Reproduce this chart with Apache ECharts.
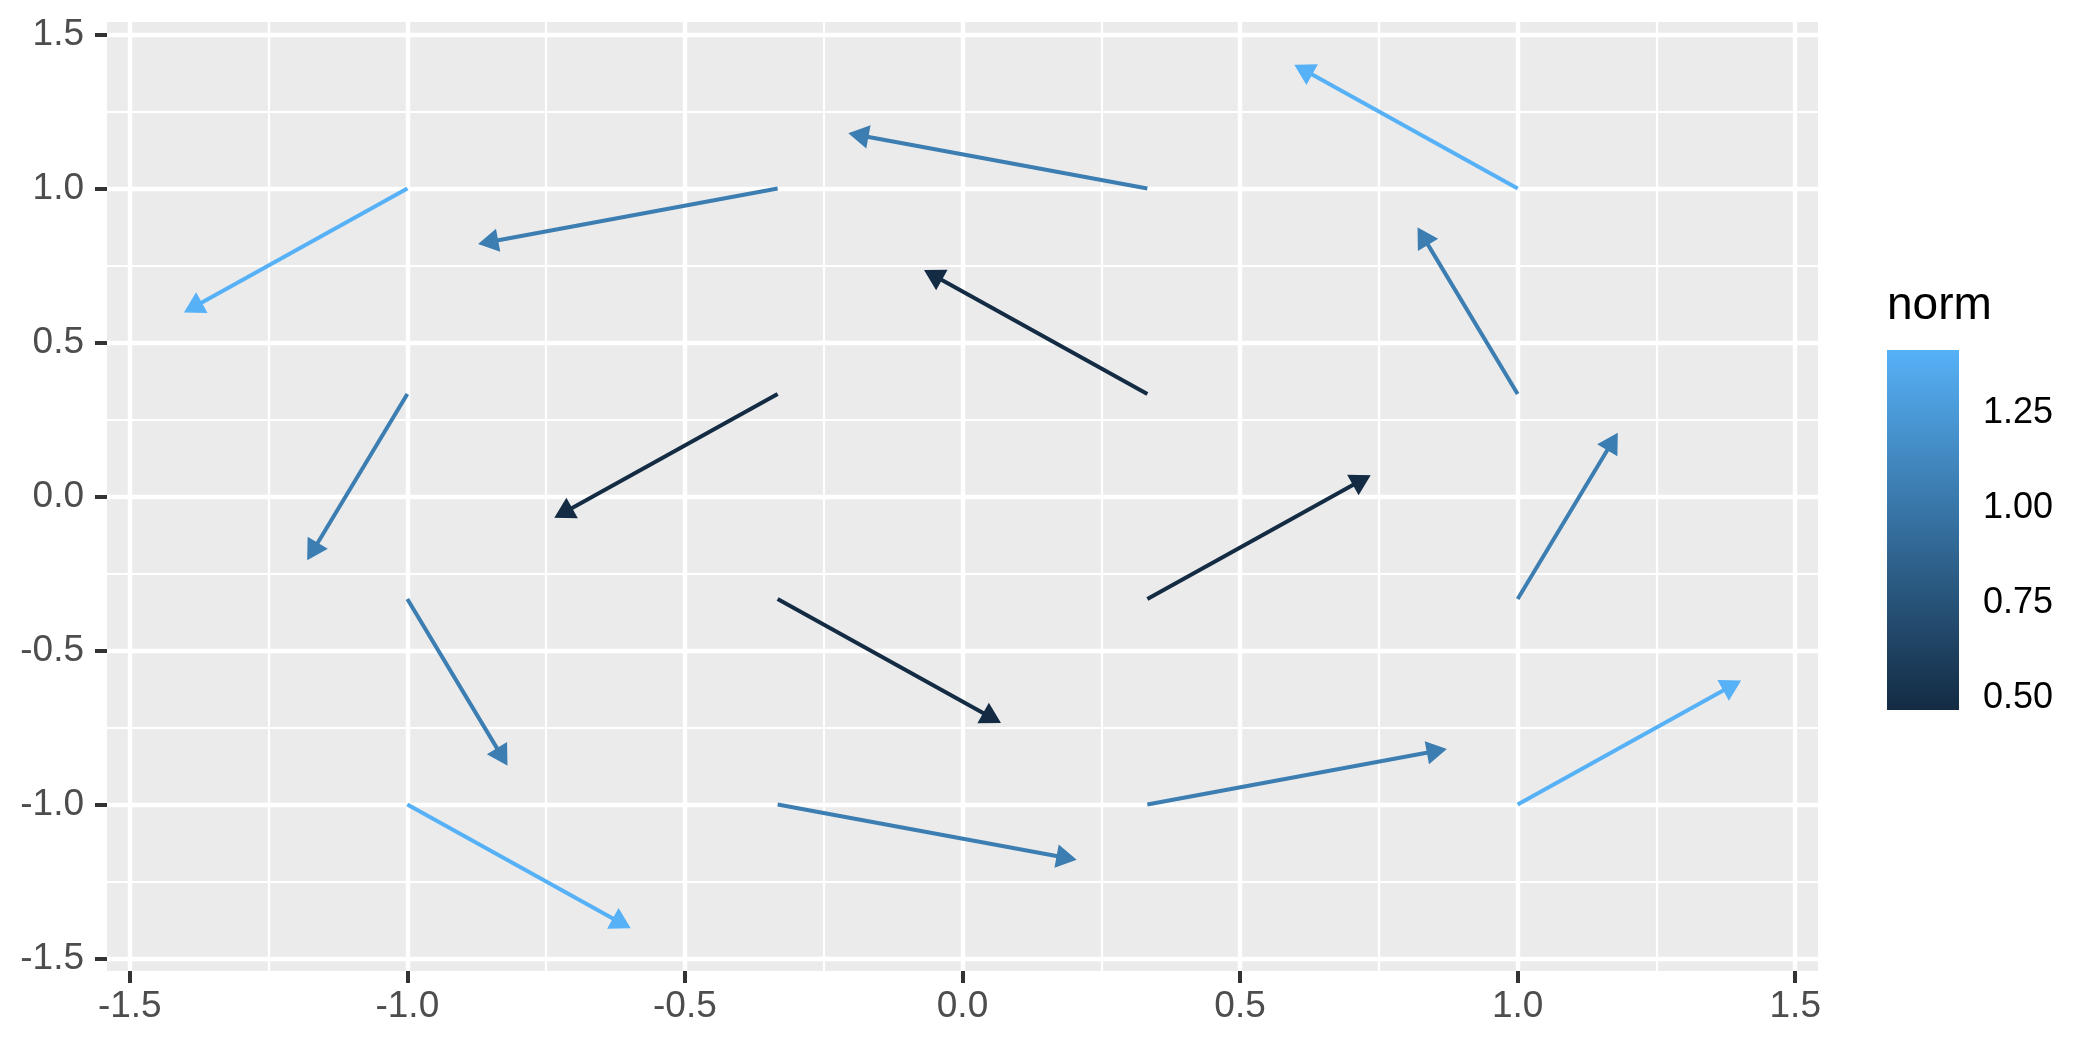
<!DOCTYPE html>
<html style="height: 100%">
<head>
<meta charset="utf-8">
<script src="https://cdn.jsdelivr.net/npm/echarts@6.0.0/dist/echarts.min.js"></script>
</head>
<body style="height: 100%; margin: 0; background: #fff">
<div id="container" style="width: 2100px; height: 1050px"></div>
<script type="text/javascript">
// arrow start / end points and their norm
var xStart = [-1, -0.333, 0.333, 1, -1, -0.333, 0.333, 1, -1, -0.333, 0.333, 1, -1, -0.333, 0.333, 1];
var yStart = [1, 1, 1, 1, 0.333, 0.333, 0.333, 0.333, -0.333, -0.333, -0.333, -0.333, -1, -1, -1, -1];
var xEnd = [-1.4, -0.87, -0.203, 0.6, -1.179, -0.733, -0.067, 0.821, -0.821, 0.067, 0.733, 1.179, -0.6, 0.203, 0.87, 1.4];
var yEnd = [0.6, 0.821, 1.179, 1.4, -0.203, -0.067, 0.733, 0.87, -0.87, -0.733, 0.067, 0.203, -1.4, -1.179, -0.821, -0.6];
var norm = [1.414, 1.054, 1.054, 1.414, 1.054, 0.471, 0.471, 1.054, 1.054, 0.471, 0.471, 1.054, 1.414, 1.054, 1.054, 1.414];

var majorBreaks = [-1.5, -1, -0.5, 0, 0.5, 1, 1.5];
var minorBreaks = [-1.25, -0.75, -0.25, 0.25, 0.75, 1.25];
var normBreaks = [0.5, 0.75, 1, 1.25];

var FONT = 'Liberation Sans, Arial, sans-serif';
var LOW = '#132B43', HIGH = '#56B1F7';

var arrows = xStart.map(function (x, i) {
	return [x, yStart[i], xEnd[i], yEnd[i], norm[i]];
});

function renderArrow(params, api) {
	var p0 = api.coord([api.value(0), api.value(1)]);
	var p1 = api.coord([api.value(2), api.value(3)]);
	var color = api.visual('color');
	var ang = Math.atan2(p1[1] - p0[1], p1[0] - p0[0]);
	var L = 21, a = Math.PI / 6;
	var b1 = [p1[0] - L * Math.cos(ang - a), p1[1] - L * Math.sin(ang - a)];
	var b2 = [p1[0] - L * Math.cos(ang + a), p1[1] - L * Math.sin(ang + a)];
	var back = L * Math.cos(a) * 0.9;
	var e = [p1[0] - back * Math.cos(ang), p1[1] - back * Math.sin(ang)];
	return {
		type: 'group',
		children: [{
			type: 'line',
			shape: { x1: p0[0], y1: p0[1], x2: e[0], y2: e[1] },
			style: { stroke: color, lineWidth: 4 }
		}, {
			type: 'polygon',
			shape: { points: [p1, b1, b2] },
			style: { fill: color, stroke: color, lineWidth: 1.5 }
		}]
	};
}

function renderBar(params, api) {
	var cs = params.coordSys;
	return {
		type: 'rect',
		shape: { x: cs.x, y: cs.y, width: cs.width, height: cs.height },
		style: {
			fill: {
				type: 'linear', x: 0, y: 0, x2: 0, y2: 1,
				colorStops: [{ offset: 0, color: HIGH }, { offset: 1, color: LOW }]
			}
		}
	};
}

var myChart = echarts.init(document.getElementById('container'));
var option = {
	animation: false,
	backgroundColor: '#fff',
	title: {
		text: 'norm', left: 1887, top: 283, padding: 0,
		textStyle: { fontFamily: FONT, fontSize: 46, fontWeight: 'normal', color: '#000' }
	},
	grid: [
		{ left: 107, top: 22, width: 1711, height: 949, show: true, backgroundColor: '#EBEBEB', borderWidth: 0 },
		{ left: 1887, top: 350, width: 72, height: 360, show: false }
	],
	visualMap: {
		show: false, type: 'continuous', seriesIndex: 0, dimension: 4,
		min: 0.4714, max: 1.4142,
		inRange: { color: [LOW, HIGH] }
	},
	xAxis: [{
		type: 'value', gridIndex: 0, min: -1.541, max: 1.541, position: 'bottom',
		axisLine: { show: false, onZero: false },
		axisTick: { show: true, length: 12, customValues: majorBreaks, lineStyle: { color: '#333333', width: 4 } },
		axisLabel: { customValues: majorBreaks, margin: 17, fontFamily: FONT, fontSize: 37, color: '#4D4D4D',
			formatter: function (v) { return v.toFixed(1); } },
		splitLine: { show: true, lineStyle: { color: '#fff', width: 4.4 } }
	}, {
		type: 'value', gridIndex: 0, min: -1.541, max: 1.541, position: 'top',
		axisLine: { show: false, onZero: false },
		axisTick: { show: false, customValues: minorBreaks },
		axisLabel: { show: false, customValues: minorBreaks },
		splitLine: { show: true, lineStyle: { color: '#fff', width: 2.2 } }
	}, {
		type: 'value', gridIndex: 1, min: 0, max: 1, show: false
	}],
	yAxis: [{
		type: 'value', gridIndex: 0, min: -1.541, max: 1.541, position: 'left',
		axisLine: { show: false, onZero: false },
		axisTick: { show: true, length: 12, customValues: majorBreaks, lineStyle: { color: '#333333', width: 4 } },
		axisLabel: { customValues: majorBreaks, margin: 23, fontFamily: FONT, fontSize: 37, color: '#4D4D4D',
			formatter: function (v) { return v.toFixed(1); } },
		splitLine: { show: true, lineStyle: { color: '#fff', width: 4.4 } }
	}, {
		type: 'value', gridIndex: 0, min: -1.541, max: 1.541, position: 'right',
		axisLine: { show: false, onZero: false },
		axisTick: { show: false, customValues: minorBreaks },
		axisLabel: { show: false, customValues: minorBreaks },
		splitLine: { show: true, lineStyle: { color: '#fff', width: 2.2 } }
	}, {
		type: 'value', gridIndex: 1, min: 0.468, max: 1.417, position: 'right',
		axisLine: { show: false, onZero: false },
		axisTick: { show: true, inside: true, length: 13, customValues: normBreaks, lineStyle: { color: '#fff', width: 1.5 } },
		axisLabel: { customValues: normBreaks, margin: 24, fontFamily: FONT, fontSize: 36, color: '#000',
			formatter: function (v) { return v.toFixed(2); } },
		splitLine: { show: false }
	}, {
		type: 'value', gridIndex: 1, min: 0.468, max: 1.417, position: 'left',
		axisLine: { show: false, onZero: false },
		axisTick: { show: true, inside: true, length: 13, customValues: normBreaks, lineStyle: { color: '#fff', width: 1.5 } },
		axisLabel: { show: false },
		splitLine: { show: false }
	}],
	series: [{
		type: 'custom',
		xAxisIndex: 0, yAxisIndex: 0,
		renderItem: renderArrow,
		encode: { x: [0, 2], y: [1, 3] },
		data: arrows,
		z: 5
	}, {
		type: 'custom',
		xAxisIndex: 2, yAxisIndex: 2,
		renderItem: renderBar,
		data: [[0.5, 1]],
		z: 1
	}]
};
myChart.setOption(option);
</script>
</body>
</html>
